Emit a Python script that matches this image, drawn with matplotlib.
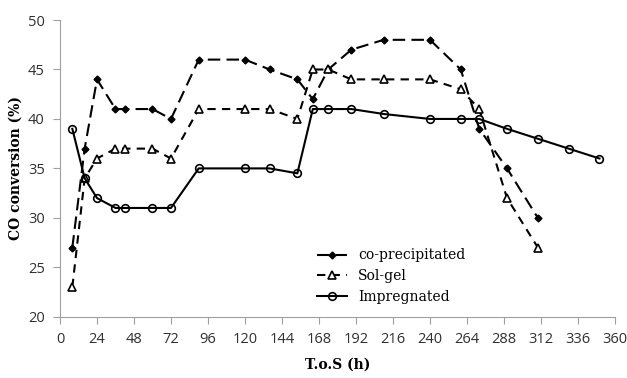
import matplotlib
matplotlib.use('Agg')
import matplotlib.pyplot as plt

# time on stream (h)
tos = [8, 16, 24, 36, 42, 60, 72, 90, 120, 136, 154, 164, 174, 189, 210, 240, 260, 272, 290, 310]
co_precipitated = [27, 37, 44, 41, 41, 41, 40, 46, 46, 45, 44, 42, 45, 47, 48, 48, 45, 39, 35, 30]
sol_gel = [23, 34, 36, 37, 37, 37, 36, 41, 41, 41, 40, 45, 45, 44, 44, 44, 43, 41, 32, 27]

tos_imp = [8, 16, 24, 36, 42, 60, 72, 90, 120, 136, 154, 164, 174, 189, 210, 240, 260, 272, 290, 310, 330, 350]
impregnated = [39, 34, 32, 31, 31, 31, 31, 35, 35, 35, 34.5, 41, 41, 41, 40.5, 40, 40, 40, 39, 38, 37, 36]

x_ticks = list(range(0, 361, 24))
y_ticks = [20, 25, 30, 35, 40, 45, 50]

fig = plt.figure(figsize=(6.27, 3.78), dpi=100)
ax = fig.add_axes([0.0957, 0.162, 0.885, 0.785])

ax.plot(tos, co_precipitated, color='black', lw=1.5, dashes=(6, 3),
        marker='D', ms=3.5, mfc='black', label='co-precipitated')
ax.plot(tos, sol_gel, color='black', lw=1.5, dashes=(4, 3),
        marker='^', ms=5.5, mfc='white', mew=1.2, label='Sol-gel')
ax.plot(tos_imp, impregnated, color='black', lw=1.5,
        marker='o', ms=5.5, mfc='none', mew=1.2, label='Impregnated')

ax.set_xlim(0, 360)
ax.set_ylim(20, 50)
ax.set_xticks(x_ticks)
ax.set_yticks(y_ticks)

for side in ['top', 'right']:
    ax.spines[side].set_visible(False)
for side in ['left', 'bottom']:
    ax.spines[side].set_color('#a0a0a0')
ax.tick_params(direction='out', length=5, color='#a0a0a0',
               labelcolor='#303030', pad=6)
for lbl in ax.get_xticklabels() + ax.get_yticklabels():
    lbl.set_family('Open Sans')
    lbl.set_fontsize(10.5)

ax.set_xlabel('T.o.S (h)', family='DejaVu Serif', fontweight='bold', fontsize=10, labelpad=8)
ax.set_ylabel('CO conversion (%)', family='DejaVu Serif', fontweight='bold', fontsize=10, labelpad=4)

leg = ax.legend(loc='lower left', bbox_to_anchor=(0.44, 0.0), frameon=False,
                handlelength=2.2, prop={'family': 'DejaVu Serif', 'size': 10})

fig.savefig('out.png', dpi=100)
